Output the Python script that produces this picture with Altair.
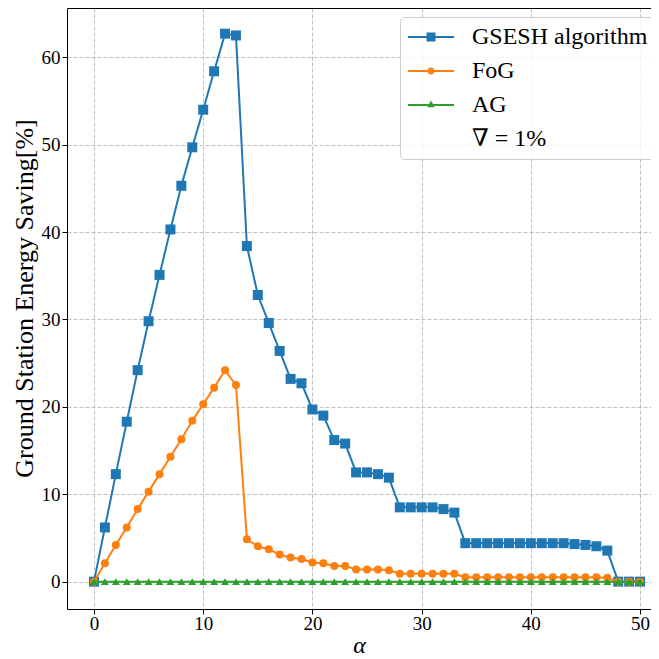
import altair as alt
import pandas as pd

# ---- data ----
alpha = list(range(51))
gsesh = [0, 6.2, 12.3, 18.3, 24.2, 29.8, 35.1, 40.3, 45.3, 49.7, 54.0, 58.4, 62.7, 62.5,
         38.4, 32.8, 29.6, 26.4, 23.2, 22.7, 19.7, 19.0, 16.2, 15.8, 12.5, 12.5, 12.3, 11.9,
         8.5, 8.5, 8.5, 8.5, 8.3, 7.9,
         4.4, 4.4, 4.4, 4.4, 4.4, 4.4, 4.4, 4.4, 4.4, 4.4,
         4.3, 4.2, 4.05, 3.55, 0, 0, 0]
fog = [0, 2.1, 4.2, 6.2, 8.3, 10.3, 12.3, 14.3, 16.3, 18.4, 20.3, 22.2, 24.2, 22.5,
       4.85, 4.05, 3.7, 3.1, 2.75, 2.6, 2.2, 2.1, 1.8, 1.8, 1.4, 1.4, 1.4, 1.3,
       0.9, 0.9, 0.9, 0.9, 0.9, 0.9,
       0.5, 0.5, 0.5, 0.5, 0.5, 0.5, 0.5, 0.5, 0.5, 0.5, 0.5, 0.5, 0.5,
       0.45, 0, 0, 0]
ag = [0, 0, 0, 0, 0, 0, 0, 0, 0, 0, 0, 0, 0, 0, 0, 0, 0, 0, 0, 0, 0, 0, 0, 0, 0, 0,
      0, 0, 0, 0, 0, 0, 0, 0, 0, 0, 0, 0, 0, 0, 0, 0, 0, 0, 0, 0, 0, 0, 0, 0, 0]

series_names = ["GSESH algorithm", "FoG", "AG"]
legend_names = series_names + ["∇ = 1%"]
colors = ["#1f77b4", "#ff7f0e", "#2ca02c"]
shapes = ["square", "circle", "triangle-up"]
sizes = [100, 64, 64]
x_ticks = [0, 10, 20, 30, 40, 50]
y_ticks = [0, 10, 20, 30, 40, 50, 60]

rows = []
for name, vals in zip(series_names, [gsesh, fog, ag]):
    for a, v in zip(alpha, vals):
        rows.append({"alpha": a, "value": v, "series": name})
df = pd.DataFrame(rows)

FONT = "Liberation Serif, DejaVu Serif"

# legend symbols: line + marker (unit = 5px for symbolSize 100)
line_part = "M-2.4,-0.2L6.8,-0.2L6.8,0.2L-2.4,0.2Z"
sq = "M1.3,-0.9L3.1,-0.9L3.1,0.9L1.3,0.9Z"
circ = "M1.5,0A0.7,0.7,0,1,1,2.9,0A0.7,0.7,0,1,1,1.5,0Z"
tri = "M2.2,-0.88L2.96,0.44L1.44,0.44Z"
legend_paths = [line_part + sq, line_part + circ, line_part + tri, "M0,0"]

xscale = alt.Scale(domain=[-2.47, 51.0], nice=False, zero=False)
yscale = alt.Scale(domain=[-3.13, 65.64], nice=False, zero=False)

x_axis = alt.Axis(values=x_ticks, format="d", grid=True, gridColor="#b0b0b0",
                  gridDash=[4, 2], gridWidth=0.8, domainColor="black", domainWidth=1,
                  tickColor="black", tickSize=5, tickWidth=1, labelFont=FONT,
                  labelFontSize=19, labelColor="black", labelPadding=0,
                  title="α", titleFont=FONT, titleFontSize=24, titleFontStyle="italic",
                  titleFontWeight="normal", titleColor="black", titlePadding=0)
y_axis = alt.Axis(values=y_ticks, format="d", grid=True, gridColor="#b0b0b0",
                  gridDash=[4, 2], gridWidth=0.8, domainColor="black", domainWidth=1,
                  tickColor="black", tickSize=5, tickWidth=1, labelFont=FONT,
                  labelFontSize=19, labelColor="black", labelPadding=2,
                  title="Ground Station Energy Saving[%]", titleFont=FONT,
                  titleFontSize=26, titleFontWeight="normal", titleColor="black",
                  titlePadding=4, titleY=290)
top_axis = alt.Axis(orient="top", labels=False, ticks=False, grid=False, domain=True,
                    domainColor="black", domainWidth=1, title=None)

X = alt.X("alpha:Q", scale=xscale, axis=x_axis)
Y = alt.Y("value:Q", scale=yscale, axis=y_axis)

layers = []
for name, color, shape, size in zip(series_names, colors, shapes, sizes):
    base = alt.Chart(df).transform_filter(alt.datum.series == name)
    layers.append(base.mark_line(color=color, strokeWidth=2, clip=True).encode(x=X, y=Y))
    layers.append(base.mark_point(filled=True, color=color, shape=shape, size=size,
                                  opacity=1, clip=True).encode(x=X, y=Y))
data_layer = alt.layer(*layers)

leg = alt.Legend(title=None, orient="none", legendX=333, legendY=9, padding=8,
                 fillColor="rgba(255,255,255,0.8)", strokeColor="#cccccc",
                 cornerRadius=4, labelFont=FONT, labelFontSize=24, labelColor="black",
                 labelLimit=400, labelOffset=40, symbolSize=100, symbolStrokeWidth=0,
                 symbolOpacity=1, rowPadding=10)

legend_layer = alt.Chart(df).mark_point(filled=True, opacity=0).encode(
    x=alt.X("alpha:Q", scale=xscale, axis=top_axis),
    y=Y,
    color=alt.Color("series:N", scale=alt.Scale(domain=legend_names,
                                                range=colors + ["transparent"]),
                    legend=leg),
    shape=alt.Shape("series:N", scale=alt.Scale(domain=legend_names, range=legend_paths),
                    legend=leg),
)

chart = alt.layer(data_layer, legend_layer).resolve_axis(x="independent").properties(
    width=584, height=601,
    autosize=alt.AutoSizeParams(type="none"),
    padding={"left": 59, "top": 0, "right": 0, "bottom": 50},
).configure_view(stroke=None)

chart.save("out.html", embed_options={"renderer": "svg", "actions": False})
